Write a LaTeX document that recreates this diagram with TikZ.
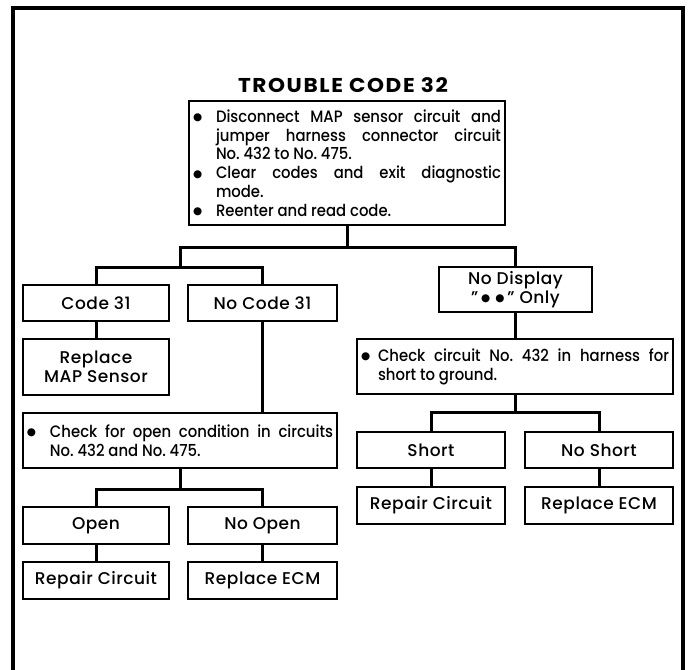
\documentclass[tikz,border=0pt]{standalone}
\usepackage{fontspec}
\setmainfont{Poppins}[UprightFont=* Medium, BoldFont=* Bold, LetterSpace=3]
\newfontfamily\listf{Poppins}[UprightFont=* Medium, FakeStretch=0.9]
\newfontfamily\titlef{Poppins}[UprightFont=* Bold, FakeStretch=1.08, LetterSpace=8]
\newfontfamily\symf{DejaVu Sans}
\newlength\bulind
\newcommand\dotb{\raisebox{1.5pt}{\symf\fontsize{10.5}{10.5}\selectfont ●}}
\newcommand\bul{\hangindent=\bulind\hangafter=1\noindent\makebox[\bulind][l]{\dotb}}
\tikzset{
  box/.style={draw, line width=1.8pt, inner sep=0pt, align=center,
    font=\fontsize{17}{19}\selectfont},
  listbox/.style={box, align=justify, inner xsep=4pt,
    font=\listf\fontsize{16.5}{18.8}\selectfont},
  conn/.style={line width=3pt, line join=miter},
  frame/.style={line width=3.5pt, line join=miter}
}
\begin{document}
\begin{tikzpicture}[x=1pt,y=-1pt]
\useasboundingbox (0,0) rectangle (689,670);
\draw[frame] (13,670) -- (13,8) -- (683,8) -- (683,670);

\node[font=\titlef\fontsize{20}{22}\selectfont] (title) at (343,85) {TROUBLE CODE 32};

\node[listbox, minimum width=316pt, minimum height=124pt, text width=308pt] (top) at (347,163)
 {\setlength\bulind{23pt}\bul Disconnect MAP sensor circuit and\linebreak jumper harness connector circuit\linebreak No.~432 to No.~475.\par
  \bul Clear codes and exit diagnostic\linebreak mode.\par
  \bul Reenter and read code.\par};

\node[box, minimum width=146pt, minimum height=36pt] (code31) at (96,303) {Code 31};
\node[box, minimum width=149pt, minimum height=36pt] (nocode) at (262.5,303) {No Code 31};
\node[box, minimum width=146pt, minimum height=56pt] (replmap) at (96,367) {Replace\\MAP Sensor};
\node[listbox, minimum width=314pt, minimum height=55pt, text width=306pt] (chkopen) at (180,440.5)
 {\setlength\bulind{23pt}\bul Check for open condition in circuits\linebreak No.~432 and No.~475.\par};
\node[box, minimum width=146pt, minimum height=37pt] (open) at (96,525.5) {Open};
\node[box, minimum width=149pt, minimum height=37pt] (noopen) at (262.5,525.5) {No Open};
\node[box, minimum width=146pt, minimum height=37pt] (rep1) at (96,580.5) {Repair Circuit};
\node[box, minimum width=149pt, minimum height=37pt] (ecm1) at (262.5,580.5) {Replace ECM};

\node[box, minimum width=153pt, minimum height=45pt] (nodisp) at (515.5,289.5) {No Display\\"\,\dotb\hspace{5pt}\dotb\," Only};
\node[listbox, minimum width=316pt, minimum height=55pt, text width=308pt] (chkshort) at (515,366.5)
 {\setlength\bulind{17pt}\bul Check circuit No.~432 in harness for\linebreak short to ground.\par};
\node[box, minimum width=148pt, minimum height=36pt] (short) at (431,450) {Short};
\node[box, minimum width=148pt, minimum height=36pt] (noshort) at (599,450) {No Short};
\node[box, minimum width=148pt, minimum height=37pt] (rep2) at (431,505.5) {Repair Circuit};
\node[box, minimum width=148pt, minimum height=37pt] (ecm2) at (599,505.5) {Replace ECM};

\coordinate (jl) at (180,247);
\coordinate (jr) at (515.5,247);
\coordinate (jl2) at (180,267);
\coordinate (jo) at (180,489);
\coordinate (js) at (515,412);

\draw[conn] (top.south) -- (top.south |- jl);
\draw[conn] (jl2) -- (jl) -- (jr) -- (nodisp.north);
\draw[conn] (code31.north) |- (jl2) -| (nocode.north);
\draw[conn] (code31.south) -- (replmap.north);
\draw[conn] (nocode.south) -- (nocode.south |- chkopen.north);
\draw[conn] (open.north) |- (jo) -| (noopen.north);
\draw[conn] (chkopen.south) -- (jo);
\draw[conn] (open.south) -- (rep1.north);
\draw[conn] (noopen.south) -- (ecm1.north);
\draw[conn] (nodisp.south) -- (nodisp.south |- chkshort.north);
\draw[conn] (chkshort.south) -- (js);
\draw[conn] (short.north) |- (js) -| (noshort.north);
\draw[conn] (short.south) -- (rep2.north);
\draw[conn] (noshort.south) -- (ecm2.north);
\end{tikzpicture}
\end{document}
